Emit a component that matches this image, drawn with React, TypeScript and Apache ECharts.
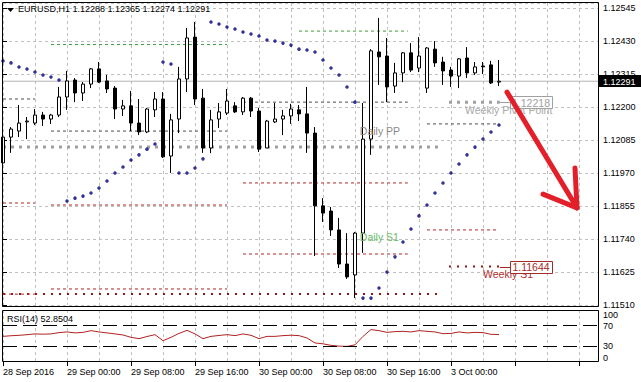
import React, { useEffect, useRef } from 'react';
import * as echarts from 'echarts';

const FONT = '"Liberation Sans", Arial, sans-serif';

const symbolName = 'EURUSD,H1';
const timeLabels = ['28 Sep 2016', '29 Sep 00:00', '29 Sep 08:00', '29 Sep 16:00', '30 Sep 00:00', '30 Sep 08:00', '30 Sep 16:00', '3 Oct 00:00'];

// hourly bars: [open, high, low, close]
const ohlc: number[][] = [
  [1.12006, 1.12103, 1.11957, 1.12096],
  [1.12096, 1.12131, 1.12041, 1.12124],
  [1.12117, 1.12208, 1.12096, 1.12145],
  [1.12149, 1.12166, 1.12089, 1.12152],
  [1.12145, 1.12194, 1.12138, 1.12173],
  [1.12173, 1.12184, 1.12135, 1.12159],
  [1.12159, 1.12177, 1.12142, 1.12173],
  [1.12173, 1.12271, 1.12166, 1.12236],
  [1.12236, 1.12327, 1.12191, 1.12292],
  [1.12295, 1.12302, 1.12218, 1.1225],
  [1.1225, 1.12288, 1.12222, 1.12281],
  [1.12281, 1.12337, 1.12267, 1.12334],
  [1.12334, 1.12358, 1.12285, 1.12288],
  [1.12292, 1.12313, 1.1225, 1.12264],
  [1.12267, 1.12274, 1.12159, 1.12194],
  [1.12194, 1.12226, 1.1217, 1.12205],
  [1.12205, 1.12257, 1.12117, 1.12145],
  [1.12145, 1.12229, 1.12103, 1.12114],
  [1.12114, 1.12198, 1.1211, 1.12194],
  [1.12191, 1.12253, 1.12166, 1.12229],
  [1.12229, 1.12253, 1.12023, 1.12027],
  [1.1203, 1.12177, 1.11971, 1.12156],
  [1.12159, 1.12341, 1.1211, 1.12299],
  [1.12299, 1.12477, 1.12253, 1.12442],
  [1.12445, 1.12498, 1.12208, 1.12229],
  [1.12232, 1.12264, 1.12041, 1.12058],
  [1.12058, 1.12191, 1.1204, 1.12156],
  [1.12159, 1.12215, 1.12128, 1.12184],
  [1.1218, 1.12264, 1.12173, 1.12222],
  [1.12205, 1.12218, 1.1218, 1.12184],
  [1.12184, 1.12236, 1.12173, 1.12232],
  [1.12232, 1.12236, 1.12166, 1.12187],
  [1.12187, 1.12198, 1.12044, 1.12054],
  [1.12058, 1.12156, 1.12058, 1.12152],
  [1.12149, 1.12215, 1.12145, 1.12159],
  [1.12159, 1.12191, 1.12103, 1.1217],
  [1.1217, 1.12212, 1.12142, 1.12194],
  [1.12191, 1.12208, 1.12152, 1.12177],
  [1.12177, 1.12271, 1.12041, 1.1211],
  [1.1211, 1.12131, 1.11681, 1.11856],
  [1.11856, 1.11883, 1.118, 1.11831],
  [1.11838, 1.11852, 1.11751, 1.11772],
  [1.11772, 1.11814, 1.11639, 1.11653],
  [1.11653, 1.11761, 1.11601, 1.11608],
  [1.11615, 1.11765, 1.11534, 1.11761],
  [1.11761, 1.12215, 1.11692, 1.12089],
  [1.12089, 1.12403, 1.12034, 1.12397],
  [1.12393, 1.12512, 1.12278, 1.12376],
  [1.12379, 1.12442, 1.12218, 1.12271],
  [1.12274, 1.12355, 1.1225, 1.1232],
  [1.1232, 1.12393, 1.12288, 1.1239],
  [1.1239, 1.12424, 1.12323, 1.1233],
  [1.12337, 1.12445, 1.12323, 1.12379],
  [1.12267, 1.1241, 1.1225, 1.12407],
  [1.12403, 1.12431, 1.12341, 1.12355],
  [1.12358, 1.12376, 1.12278, 1.12327],
  [1.1233, 1.12341, 1.12271, 1.12309],
  [1.12309, 1.12372, 1.12267, 1.12369],
  [1.12372, 1.1241, 1.12302, 1.1232],
  [1.1232, 1.12358, 1.12313, 1.12341],
  [1.12344, 1.12358, 1.12316, 1.12341],
  [1.12348, 1.12362, 1.12281, 1.12285],
  [1.12288, 1.12365, 1.12274, 1.12291],
];

// Parabolic SAR value per bar
const sar = [
  1.12362, 1.12355, 1.12341, 1.12334, 1.12323, 1.12313, 1.12306, 1.12295,
  1.11873, 1.11883, 1.1189, 1.11901, 1.11918, 1.11943, 1.11971, 1.11992, 1.12016, 1.12034, 1.12054, 1.12072,
  1.12358, 1.12351,
  1.11971, 1.11971, 1.11988, 1.1202,
  1.12498, 1.12491, 1.1248, 1.12473, 1.12463, 1.12456, 1.12449, 1.12435, 1.12431, 1.12424, 1.12417, 1.12403, 1.124, 1.12393, 1.12365, 1.12337, 1.12313, 1.12271, 1.12218,
  1.11534, 1.11534, 1.11569, 1.11625, 1.11678, 1.1173, 1.11775, 1.11821, 1.11859, 1.11901, 1.11936, 1.11971, 1.12002, 1.12034, 1.12061, 1.12089, 1.12114, 1.12138,
];

// RSI(14) per bar
const rsi = [
  49.3, 50.5, 51.3, 52.5, 54.0, 53.5, 54.0, 56.5, 57.8, 56.0, 57.0, 60.3, 57.8, 56.0, 54.0, 52.0,
  47.4, 44.9, 49.0, 52.6, 41.0, 47.4, 55.0, 60.9, 54.0, 44.9, 49.3, 51.0, 52.6, 50.7, 54.0, 51.3,
  44.9, 49.3, 49.3, 50.7, 51.5, 50.7, 46.2, 36.6, 35.0, 32.0, 30.5, 30.0, 33.0, 49.3, 62.3, 60.3,
  57.0, 58.4, 59.0, 57.8, 60.3, 59.0, 57.8, 54.5, 55.0, 57.8, 55.9, 57.0, 56.5, 53.2, 52.8504,
];
const rsiLevels = [70, 30];
const rsiTickLabels = [0, 30, 70, 100];

const priceMin = 1.1151;
const priceMax = 1.12564;
const priceStep = 0.00115;
const slotCount = 74.375;

// pivot segments: [fromBar, toBar, price]
const dailyPP = [[0, 4, 1.12229], [6, 28, 1.12117], [30, 50.6, 1.12218], [53, 62, 1.12142]];
const dailyR1 = [[6, 28, 1.12419], [37, 50.6, 1.12466]];
const dailyS1 = [[0, 4, 1.11866], [6, 28, 1.11859], [30, 50.6, 1.11936], [53, 61.7, 1.11772]];
const dailyS2 = [[0, 4, 1.11548], [6, 28, 1.11566], [30, 50.6, 1.11688]];
const weeklyPP = [[0, 55, 1.12061], [55.75, 62.1, 1.12218]];
const weeklyS1 = [[0, 55, 1.11548], [55.75, 62.1, 1.11644]];

// hand-drawn arrow: [bar, price]
const arrowShaft = [[63, 1.12253], [71.75, 1.11849]];
const arrowHead = [[67.5, 1.11897], [71.75, 1.11849], [71.5, 1.11988]];

export default function App() {
  const ref = useRef<HTMLDivElement>(null);
  useEffect(() => {
    const chart = echarts.init(ref.current!, undefined, { renderer: 'svg' });
    const last = ohlc[ohlc.length - 1];
    const bid = last[3];
    const segSeries = (segs: number[][], color: string, width: number, type: any, z: number) =>
      segs.map(([a, b, p]) => ({
        type: 'line', xAxisIndex: 0, yAxisIndex: 0, silent: true, symbol: 'none', z,
        data: [[a, p], [b, p]],
        lineStyle: { color, width, type },
      }));
    const gridLine = { show: true, lineStyle: { color: '#c0c0c0', type: [3, 3], width: 1 } };
    const option: any = {
      animation: false,
      backgroundColor: '#ffffff',
      title: [
        { text: `${symbolName} ${last.map((v) => v.toFixed(5)).join(' ')}`, left: 18, top: 4, padding: 0,
          textStyle: { fontSize: 9, fontWeight: 'normal', color: '#000', fontFamily: FONT } },
        { text: `RSI(14) ${rsi[rsi.length - 1].toFixed(4)}`, left: 7, top: 314, padding: 0,
          textStyle: { fontSize: 9, fontWeight: 'normal', color: '#000', fontFamily: FONT } },
      ],
      grid: [
        { left: 3, right: 43, top: 3, height: 302 },
        { left: 3, right: 43, top: 310, height: 52 },
      ],
      xAxis: [
        { type: 'value', gridIndex: 0, min: 0, max: slotCount, interval: 4, axisLine: { show: false }, axisTick: { show: false }, axisLabel: { show: false }, splitLine: gridLine },
        { type: 'value', gridIndex: 1, position: 'bottom', min: 0, max: slotCount, interval: 4, axisLine: { show: false }, axisTick: { show: false }, axisLabel: { show: false }, splitLine: gridLine },
        { type: 'value', gridIndex: 1, position: 'bottom', min: 0, max: slotCount, interval: 8, axisLine: { show: false },
          axisTick: { show: true, length: 4, lineStyle: { color: '#000' } }, splitLine: { show: false },
          axisLabel: { show: true, align: 'left', margin: 5, fontSize: 9, color: '#000', fontFamily: FONT, showMaxLabel: false,
            formatter: (v: number) => { const k = Math.round(v / 8); return Math.abs(v - k * 8) < 1e-6 && k < timeLabels.length ? timeLabels[k] : ''; } } },
      ],
      yAxis: [
        { type: 'value', gridIndex: 0, position: 'right', min: priceMin, max: priceMax, interval: priceStep, axisLine: { show: false },
          axisTick: { show: true, length: 4, lineStyle: { color: '#000' } }, splitLine: gridLine,
          axisLabel: { show: true, margin: 5, fontSize: 9, color: '#000', fontFamily: FONT, showMaxLabel: false, formatter: (v: number) => v.toFixed(5) } },
        { type: 'value', gridIndex: 1, position: 'right', min: 0, max: 100, interval: 10, axisLine: { show: false },
          axisTick: { show: false }, splitLine: { show: false },
          axisLabel: { show: true, margin: 5, fontSize: 9, color: '#000', fontFamily: FONT, verticalAlignMaxLabel: 'top', verticalAlignMinLabel: 'bottom',
            formatter: (v: number) => (rsiTickLabels.includes(Math.round(v)) ? String(Math.round(v)) : '') } },
      ],
      series: [
        ...segSeries(weeklyPP, '#a0a0a0', 3, [3, 5], 1),
        ...segSeries(weeklyS1, '#8b1a1a', 2, [2, 6], 1),
        ...segSeries(dailyPP, '#4d4d4d', 1, [3, 3], 1),
        ...segSeries(dailyR1, '#3f9a3f', 1, [3, 3], 1),
        ...segSeries(dailyS1, '#b3262b', 1, [3, 3], 1),
        ...segSeries(dailyS2, '#b3262b', 1, [3, 3], 1),
        ...segSeries([[0, slotCount, bid]], '#b4b4b4', 1, 'solid', 2),
        {
          type: 'candlestick', xAxisIndex: 0, yAxisIndex: 0, barWidth: 4, z: 3, silent: true,
          data: ohlc.map(([o, h, l, c], i) => [i, o, c, l, h]),
          itemStyle: { color: '#ffffff', color0: '#000000', borderColor: '#000000', borderColor0: '#000000', borderWidth: 1 },
        },
        {
          type: 'scatter', xAxisIndex: 0, yAxisIndex: 0, silent: true, z: 4, symbol: 'circle', symbolSize: 3.5,
          itemStyle: { color: '#000080' },
          data: sar.map((v, i) => [i, v]),
        },
        {
          type: 'line', xAxisIndex: 1, yAxisIndex: 1, silent: true, symbol: 'none',
          lineStyle: { color: '#b22222', width: 1 },
          data: rsi.map((v, i) => [i, v]),
          markLine: {
            silent: true, symbol: 'none', label: { show: false },
            lineStyle: { color: '#000', type: [14, 6], width: 1 },
            data: rsiLevels.map((v) => ({ yAxis: v })),
          },
        },
      ],
    };
    chart.setOption(option);

    const toPx = (bar: number, price: number) => chart.convertToPixel({ gridIndex: 0 } as any, [bar, price]) as number[];
    const pivotTexts = [
      { text: 'Daily PP', bar: 44.6, price: dailyPP[3][2], color: '#8a8a8a' },
      { text: 'Daily S1', bar: 44.6, price: dailyS1[3][2], color: '#66bb66' },
      { text: 'Weekly Pivot Point', bar: 57.75, price: weeklyPP[1][2], color: '#a8a8a8' },
      { text: 'Weekly S1', bar: 60, price: weeklyS1[1][2], color: '#b03030' },
    ];
    const boxes = [
      { price: weeklyPP[1][2], from: weeklyPP[1][1], color: '#a0a0a0' },
      { price: weeklyS1[1][2], from: weeklyS1[1][1], color: '#a52a2a' },
    ];
    const graphics: any[] = [];
    pivotTexts.forEach((t) => {
      const [x, y] = toPx(t.bar, t.price);
      graphics.push({ type: 'text', x, y: y + 2, z: 20, silent: true,
        style: { text: t.text, fill: t.color, fontSize: 10.5, fontFamily: FONT, align: 'left', verticalAlign: 'top', textAlign: 'left', textVerticalAlign: 'top' } });
    });
    boxes.forEach((b) => {
      const [cx, cy] = toPx(66, b.price);
      const [sx] = toPx(b.from, b.price);
      graphics.push({ type: 'line', z: 20, silent: true, shape: { x1: sx, y1: Math.round(cy) + 0.5, x2: cx - 21, y2: Math.round(cy) + 0.5 }, style: { stroke: b.color, lineWidth: 1 } });
      graphics.push({ type: 'rect', z: 21, silent: true, shape: { x: Math.round(cx - 21) + 0.5, y: Math.round(cy - 6) + 0.5, width: 42, height: 12 },
        style: { fill: '#fff', stroke: b.color, lineWidth: 1 } });
      graphics.push({ type: 'text', z: 22, silent: true, x: cx, y: cy + 0.5, style: { text: b.price.toFixed(5), fill: b.color, fontSize: 10.5, fontFamily: FONT,
        align: 'center', verticalAlign: 'middle', textAlign: 'center', textVerticalAlign: 'middle' } });
    });
    // bid price tag on the price scale
    const [bx, by] = toPx(slotCount, bid);
    graphics.push({ type: 'rect', z: 45, silent: true, shape: { x: bx + 1, y: Math.round(by) - 6, width: 42, height: 12 }, style: { fill: '#000' } });
    graphics.push({ type: 'text', z: 46, silent: true, x: bx + 5, y: by + 0.5, style: { text: bid.toFixed(5), fill: '#fff', fontSize: 9, fontFamily: FONT,
      align: 'left', verticalAlign: 'middle', textAlign: 'left', textVerticalAlign: 'middle' } });
    graphics.push({ type: 'polyline', z: 30, silent: true, shape: { points: arrowShaft.map(([b, p]) => toPx(b, p)) },
      style: { stroke: '#e3202a', lineWidth: 5, lineCap: 'round', lineJoin: 'round', fill: null } });
    graphics.push({ type: 'polyline', z: 30, silent: true, shape: { points: arrowHead.map(([b, p]) => toPx(b, p)) },
      style: { stroke: '#e3202a', lineWidth: 5, lineCap: 'round', lineJoin: 'round', fill: null } });
    // frames and title marker
    graphics.push({ type: 'rect', z: 40, silent: true, shape: { x: 2.5, y: 2.5, width: 596, height: 304 }, style: { fill: null, stroke: '#000', lineWidth: 1 } });
    graphics.push({ type: 'rect', z: 40, silent: true, shape: { x: 2.5, y: 310.5, width: 596, height: 51 }, style: { fill: null, stroke: '#000', lineWidth: 1 } });
    graphics.push({ type: 'polygon', z: 40, silent: true, shape: { points: [[7, 8], [14, 8], [10.5, 12]] }, style: { fill: '#000' } });
    chart.setOption({ graphic: graphics });

    return () => chart.dispose();
  }, []);
  return <div ref={ref} style={{ position: 'fixed', left: 0, top: 0, width: 641, height: 382, background: '#fff' }} />;
}
